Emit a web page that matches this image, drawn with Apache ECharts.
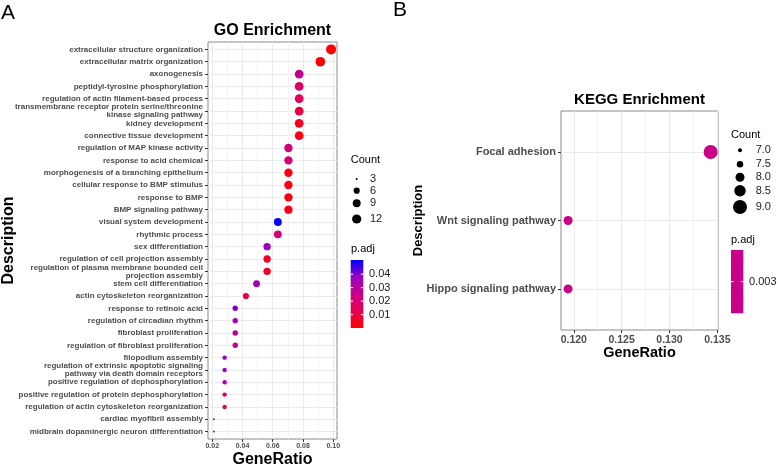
<!DOCTYPE html>
<html><head><meta charset="utf-8">
<script src="https://cdn.jsdelivr.net/npm/echarts@6/dist/echarts.min.js"></script>
<style>html,body{margin:0;padding:0;background:#fff}#c{width:778px;height:467px}</style>
</head><body><div id="c"></div>
<script>
// ---------- GO data (top to bottom) ----------
const goTerms = [
  'extracellular structure organization',
  'extracellular matrix organization',
  'axonogenesis',
  'peptidyl-tyrosine phosphorylation',
  'regulation of actin filament-based process',
  'transmembrane receptor protein serine/threonine\nkinase signaling pathway',
  'kidney development',
  'connective tissue development',
  'regulation of MAP kinase activity',
  'response to acid chemical',
  'morphogenesis of a branching epithelium',
  'cellular response to BMP stimulus',
  'response to BMP',
  'BMP signaling pathway',
  'visual system development',
  'rhythmic process',
  'sex differentiation',
  'regulation of cell projection assembly',
  'regulation of plasma membrane bounded cell\nprojection assembly',
  'stem cell differentiation',
  'actin cytoskeleton reorganization',
  'response to retinoic acid',
  'regulation of circadian rhythm',
  'fibroblast proliferation',
  'regulation of fibroblast proliferation',
  'filopodium assembly',
  'regulation of extrinsic apoptotic signaling\npathway via death domain receptors',
  'positive regulation of dephosphorylation',
  'positive regulation of protein dephosphorylation',
  'regulation of actin cytoskeleton reorganization',
  'cardiac myofibril assembly',
  'midbrain dopaminergic neuron differentiation'
];
const goRatio = [0.0986,0.0915,0.0775,0.0775,0.0775,0.0775,0.0775,0.0775,
  0.0704,0.0704,0.0704,0.0704,0.0704,0.0704,0.0634,0.0634,0.0563,0.0563,0.0563,
  0.0493,0.0423,0.0352,0.0352,0.0352,0.0352,0.0282,0.0282,0.0282,0.0282,0.0282,0.0211,0.0211];
const goCount = [14,13,11,11,11,11,11,11,10,10,10,10,10,10,9,9,8,8,8,7,6,5,5,5,5,4,4,4,4,4,3,3];
const goPadj = [0.0004,0.0012,0.027,0.017,0.015,0.010,0.005,0.003,
  0.022,0.021,0.003,0.003,0.003,0.003,0.0500,0.021,0.037,0.006,0.006,
  0.035,0.010,0.040,0.035,0.029,0.028,0.038,0.037,0.034,0.018,0.015,0.035,0.015];
const goXTicks = [0.02,0.04,0.06,0.08,0.10];
const goXMinor = [0.03,0.05,0.07,0.09];
const goCountBreaks = [3,6,9,12];
const goPadjBreaks = [0.01,0.02,0.03,0.04];

// ---------- KEGG data ----------
const keggTerms = ['Focal adhesion','Wnt signaling pathway','Hippo signaling pathway'];
const keggRatio = [0.1343,0.1194,0.1194];
const keggCount = [9,8,8];
const keggPadj = [0.003,0.003,0.003];
const keggXTicks = [0.120,0.125,0.130,0.135];
const keggXMinor = [0.1225,0.1275,0.1325];
const keggCountBreaks = [7.0,7.5,8.0,8.5,9.0];
const keggPadjBreaks = [0.003];

// ---------- styles ----------
const FF = "'Liberation Sans', Arial, Helvetica, sans-serif";
const stops = ['#FF0000','#E80050','#C90088','#9A00C3','#0000FF'];
const goPMin = 0.0001, goPMax = 0.0505;
const keggPMin = 0.002, keggPMax = 0.004;
const goSize = c => 2 + 8 * Math.sqrt((c - 3) / 11);
const keggSize = c => 4 + 5 * (c - 7);
const GRID = '#EBEBEB', MINOR = '#F3F3F3', TXT = '#4D4D4D';

const goGrid = {left:208, top:42, width:129, height:397};
const keggGrid = {left:561, top:111, width:157, height:219};

function yAxisFor(gi, terms, fs, lh) {
  const idx = terms.map((_, i) => i);
  return {
    gridIndex: gi, type: 'value', min: -0.6, max: terms.length - 0.4, inverse: true,
    position: 'left',
    axisLine: {show: false, onZero: false},
    axisTick: {show: true, length: 3, customValues: idx, lineStyle: {color: '#333'}},
    axisLabel: {customValues: idx, formatter: v => terms[Math.round(v)] || '',
      fontSize: fs, lineHeight: lh, fontWeight: 'bold', color: TXT, fontFamily: FF, margin: 5},
    splitLine: {show: true, lineStyle: {color: GRID, width: 1}}
  };
}
function xAxisFor(gi, min, max, ticks, fs, dec, margin) {
  return {
    gridIndex: gi, type: 'value', min: min, max: max, position: 'bottom',
    axisLine: {show: false, onZero: false},
    axisTick: {show: true, length: 3, customValues: ticks, lineStyle: {color: '#333'}},
    axisLabel: {customValues: ticks, formatter: v => v.toFixed(dec), fontSize: fs,
      fontWeight: 'bold', color: TXT, fontFamily: FF, margin: margin},
    splitLine: {show: true, lineStyle: {color: GRID, width: 1}}
  };
}
function xMinorFor(gi, min, max, ticks) {
  return {
    gridIndex: gi, type: 'value', min: min, max: max, position: 'bottom',
    axisLine: {show: false, onZero: false},
    axisTick: {show: false, customValues: ticks},
    axisLabel: {show: false, customValues: ticks},
    splitLine: {show: true, lineStyle: {color: MINOR, width: 1}}
  };
}

// ---------- legends & labels via graphic ----------
const g = [];
function txt(text, x, y, size, weight, color, align, rot) {
  const el = {type: 'text', x: x, y: y, rotation: rot || 0, z: 100,
    style: {text: text, x: 0, y: 0, fill: color || '#000', textAlign: align || 'left',
      textVerticalAlign: 'middle', font: (weight || 'normal') + ' ' + size + 'px ' + FF}};
  g.push(el);
}
txt('A', 1, 13, 21, 'normal', '#000');
txt('B', 393, 10, 21, 'normal', '#000');
txt('GO Enrichment', goGrid.left + goGrid.width / 2, 31, 16, 'bold', '#000', 'center');
txt('KEGG Enrichment', keggGrid.left + keggGrid.width / 2, 100, 15, 'bold', '#000', 'center');
txt('GeneRatio', goGrid.left + goGrid.width / 2, 460, 16, 'bold', '#000', 'center');
txt('GeneRatio', keggGrid.left + keggGrid.width / 2, 353, 14.5, 'bold', '#000', 'center');
txt('Description', 9, goGrid.top + goGrid.height / 2, 16, 'bold', '#000', 'center', Math.PI / 2);
txt('Description', 418, keggGrid.top + keggGrid.height / 2, 13, 'bold', '#000', 'center', Math.PI / 2);

// GO size legend
const goLegY = [179, 190.7, 203.3, 219];
txt('Count', 350.7, 160, 11, 'normal', '#000');
goCountBreaks.forEach((c, i) => {
  g.push({type: 'circle', shape: {cx: 356.7, cy: goLegY[i], r: goSize(c) / 2}, style: {fill: '#000'}, z: 100});
  txt(String(c), 370, goLegY[i], 11, 'normal', '#1a1a1a');
});
// GO colour bar
const gb = {x: 350.7, y: 260, w: 12.6, h: 68};
txt('p.adj', 351, 249, 11, 'normal', '#000');
g.push({type: 'rect', shape: {x: gb.x, y: gb.y, width: gb.w, height: gb.h}, z: 100,
  style: {fill: {type: 'linear', x: 0, y: 0, x2: 0, y2: 1,
    colorStops: stops.slice().reverse().map((c, i) => ({offset: i / (stops.length - 1), color: c}))}}});
goPadjBreaks.forEach(v => {
  const y = gb.y + gb.h - (v - goPMin) / (goPMax - goPMin) * gb.h;
  g.push({type: 'line', shape: {x1: gb.x, y1: y, x2: gb.x + 2.5, y2: y}, style: {stroke: '#fff', lineWidth: 1}, z: 101});
  g.push({type: 'line', shape: {x1: gb.x + gb.w - 2.5, y1: y, x2: gb.x + gb.w, y2: y}, style: {stroke: '#fff', lineWidth: 1}, z: 101});
  txt(v.toFixed(2), 369, y, 11, 'normal', '#1a1a1a');
});

// KEGG size legend
const keggLegY = [150.3, 164.3, 177.3, 190.7, 207];
txt('Count', 731, 134.5, 11, 'normal', '#000');
keggCountBreaks.forEach((c, i) => {
  g.push({type: 'circle', shape: {cx: 740, cy: keggLegY[i], r: keggSize(c) / 2}, style: {fill: '#000'}, z: 100});
  txt(c.toFixed(1), 755.7, keggLegY[i], 11, 'normal', '#1a1a1a');
});
// KEGG colour bar
const kb = {x: 731, y: 250, w: 12.3, h: 63.3};
txt('p.adj', 731, 240, 11, 'normal', '#000');
g.push({type: 'rect', shape: {x: kb.x, y: kb.y, width: kb.w, height: kb.h}, z: 100,
  style: {fill: echarts.color.lerp(0.5, stops)}});
keggPadjBreaks.forEach(v => {
  const y = kb.y + kb.h / 2;
  g.push({type: 'line', shape: {x1: kb.x, y1: y, x2: kb.x + 2.5, y2: y}, style: {stroke: '#fff', lineWidth: 1}, z: 101});
  g.push({type: 'line', shape: {x1: kb.x + kb.w - 2.5, y1: y, x2: kb.x + kb.w, y2: y}, style: {stroke: '#fff', lineWidth: 1}, z: 101});
  txt(v.toFixed(3), 749, y, 11, 'normal', '#1a1a1a');
});

const chart = echarts.init(document.getElementById('c'), null, {renderer: 'canvas'});
chart.setOption({
  animation: false,
  backgroundColor: '#fff',
  grid: [
    Object.assign({show: true, borderColor: '#888', borderWidth: 1, backgroundColor: '#fff'}, goGrid),
    Object.assign({show: true, borderColor: '#888', borderWidth: 1, backgroundColor: '#fff'}, keggGrid)
  ],
  xAxis: [
    xAxisFor(0, 0.0172, 0.1025, goXTicks, 7, 2, 4),
    xMinorFor(0, 0.0172, 0.1025, goXMinor),
    xAxisFor(1, 0.11866, 0.13507, keggXTicks, 10.5, 3, 4.5),
    xMinorFor(1, 0.11866, 0.13507, keggXMinor)
  ],
  yAxis: [yAxisFor(0, goTerms, 8, 8), yAxisFor(1, keggTerms, 11, 12)],
  visualMap: [
    {show: false, seriesIndex: 0, dimension: 3, min: goPMin, max: goPMax, inRange: {color: stops}},
    {show: false, seriesIndex: 1, dimension: 3, min: keggPMin, max: keggPMax, inRange: {color: stops}}
  ],
  series: [
    {type: 'scatter', xAxisIndex: 0, yAxisIndex: 0, z: 5,
      symbolSize: v => goSize(v[2]),
      itemStyle: {opacity: 1},
      data: goTerms.map((t, i) => [goRatio[i], i, goCount[i], goPadj[i]])},
    {type: 'scatter', xAxisIndex: 2, yAxisIndex: 1, z: 5,
      symbolSize: v => keggSize(v[2]),
      itemStyle: {opacity: 1},
      data: keggTerms.map((t, i) => [keggRatio[i], i, keggCount[i], keggPadj[i]])}
  ],
  graphic: g
});
</script></body></html>
